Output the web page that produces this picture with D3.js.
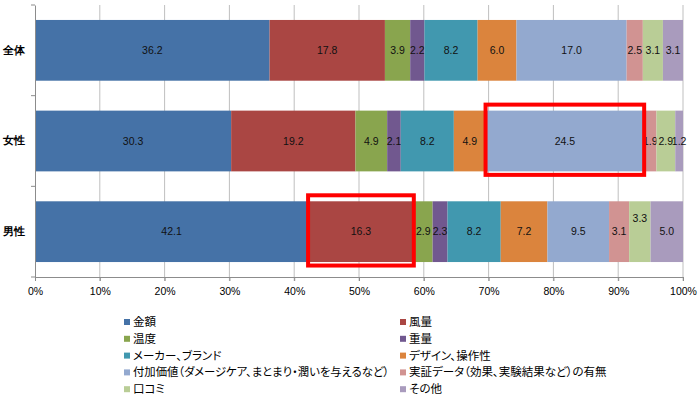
<!DOCTYPE html>
<html>
<head>
<meta charset="utf-8">
<script src="https://cdn.jsdelivr.net/npm/d3@7"></script>
<style>
  body { margin: 0; background: #fff; }
  svg { display: block; font-family: "Noto Sans CJK JP", "Noto Sans", sans-serif; }
  .legend text { font-feature-settings: "palt"; }
</style>
</head>
<body>
<svg id="chart" width="700" height="399"></svg>
<script>
const categories = ['全体', '女性', '男性'];
const seriesNames = [
  '金額', '風量', '温度', '重量', 'メーカー、ブランド', 'デザイン、操作性',
  '付加価値（ダメージケア、まとまり・潤いを与えるなど）',
  '実証データ（効果、実験結果など）の有無', '口コミ', 'その他'
];
const zentai = [36.2, 17.8, 3.9, 2.2, 8.2, 6.0, 17.0, 2.5, 3.1, 3.1];
const josei  = [30.3, 19.2, 4.9, 2.1, 8.2, 4.9, 24.5, 1.9, 2.9, 1.2];
const dansei = [42.1, 16.3, 2.9, 2.3, 8.2, 7.2, 9.5, 3.1, 3.3, 5.0];
const xTicks = [0, 0.1, 0.2, 0.3, 0.4, 0.5, 0.6, 0.7, 0.8, 0.9, 1];

// excel 2007 palette
const colors = ['#4572A7', '#AA4643', '#89A54E', '#71588F', '#4198AF',
                '#DB843D', '#93A9CF', '#D19392', '#B9CD96', '#A99BBD'];

// red annotation boxes
const highlights = [
  { cat: '女性', series: 6 },
  { cat: '男性', series: 1 }
];

const rows = [zentai, josei, dansei];
const table = categories.map((c, i) => {
  const o = { cat: c };
  seriesNames.forEach((s, j) => o[s] = rows[i][j]);
  return o;
});

const svg = d3.select('#chart');
const plotLeft = 35, plotRight = 683, plotTop = 5, plotBottom = 277;

const x = d3.scaleLinear().domain([0, 1]).range([plotLeft, plotRight]);
const y = d3.scaleBand().domain(categories).range([plotTop, plotBottom])
  .paddingInner(0.33).paddingOuter(0.165);
const color = d3.scaleOrdinal().domain(seriesNames).range(colors);

const stacked = d3.stack().keys(seriesNames).offset(d3.stackOffsetExpand)(table);

// gridlines
svg.append('g').selectAll('line')
  .data(xTicks.slice(1))
  .join('line')
  .attr('x1', d => x(d)).attr('x2', d => x(d))
  .attr('y1', plotTop).attr('y2', plotBottom + 4)
  .attr('stroke', '#bfbfbf').attr('stroke-width', 1);

// bars
const groups = svg.append('g').selectAll('g')
  .data(stacked)
  .join('g')
  .attr('fill', d => color(d.key));

groups.selectAll('rect')
  .data(d => d)
  .join('rect')
  .attr('x', d => x(d[0]))
  .attr('width', d => x(d[1]) - x(d[0]))
  .attr('y', d => y(d.data.cat))
  .attr('height', y.bandwidth());

// axes
const xAxis = svg.append('g')
  .attr('transform', `translate(0,${plotBottom})`)
  .call(d3.axisBottom(x).tickValues(xTicks).tickFormat(d3.format('.0%')).tickSize(4).tickPadding(7));
xAxis.select('.domain').attr('stroke', '#8c8c8c');
xAxis.selectAll('.tick line').attr('stroke', '#8c8c8c');
xAxis.selectAll('text').attr('font-size', 10.5).attr('fill', '#000')
  .attr('font-family', '"Liberation Sans", sans-serif');

const yAxis = svg.append('g')
  .attr('transform', `translate(${plotLeft},0)`)
  .call(d3.axisLeft(y).tickSize(0).tickPadding(10));
yAxis.select('.domain').attr('stroke', '#8c8c8c');
yAxis.selectAll('text').attr('font-size', 10.5).attr('font-weight', 'bold').attr('fill', '#000');

// band separator ticks
const bandEdges = [plotTop].concat(categories.map(c => y(c) + y.bandwidth() + y.step() * y.paddingInner() / 2));
svg.append('g').selectAll('line')
  .data(bandEdges)
  .join('line')
  .attr('x1', plotLeft - 4).attr('x2', plotLeft)
  .attr('y1', d => d).attr('y2', d => d)
  .attr('stroke', '#8c8c8c');

// value labels
groups.each(function (s, si) {
  d3.select(this).selectAll('text')
    .data(s)
    .join('text')
    .attr('x', d => (x(d[0]) + x(d[1])) / 2)
    .attr('y', d => {
      let yy = y(d.data.cat) + y.bandwidth() / 2;
      if (d.data.cat === '男性' && si === 8) yy -= 13;
      return yy;
    })
    .attr('dy', '0.35em')
    .attr('text-anchor', 'middle')
    .attr('font-size', 10.5)
    .attr('font-family', '"Liberation Sans", sans-serif')
    .attr('fill', '#111')
    .text(d => d.data[s.key].toFixed(1));
});

// annotation boxes
svg.append('g').selectAll('rect')
  .data(highlights)
  .join('rect')
  .attr('x', d => x(stacked[d.series].find(p => p.data.cat === d.cat)[0]))
  .attr('width', d => {
    const p = stacked[d.series].find(p => p.data.cat === d.cat);
    return x(p[1]) - x(p[0]);
  })
  .attr('y', d => y(d.cat) - 6)
  .attr('height', y.bandwidth() + 9.5)
  .attr('fill', 'none')
  .attr('stroke', '#ff0000')
  .attr('stroke-width', 4);

// legend
const legend = svg.append('g').attr('class', 'legend');
const item = legend.selectAll('g')
  .data(seriesNames)
  .join('g')
  .attr('transform', (d, i) => `translate(${i % 2 === 0 ? 124 : 400},${322 + Math.floor(i / 2) * 16.8})`);
item.append('rect')
  .attr('x', 0).attr('y', -3).attr('width', 6).attr('height', 6)
  .attr('fill', d => color(d));
item.append('text')
  .attr('x', 9).attr('dy', '0.35em')
  .attr('font-size', 11.5)
  .attr('fill', '#000')
  .text(d => d)
  .each(function () {
    // keep long labels inside their column
    const w = this.getComputedTextLength();
    if (w > 256) d3.select(this).attr('textLength', 256).attr('lengthAdjust', 'spacingAndGlyphs');
  });
</script>
</body>
</html>
